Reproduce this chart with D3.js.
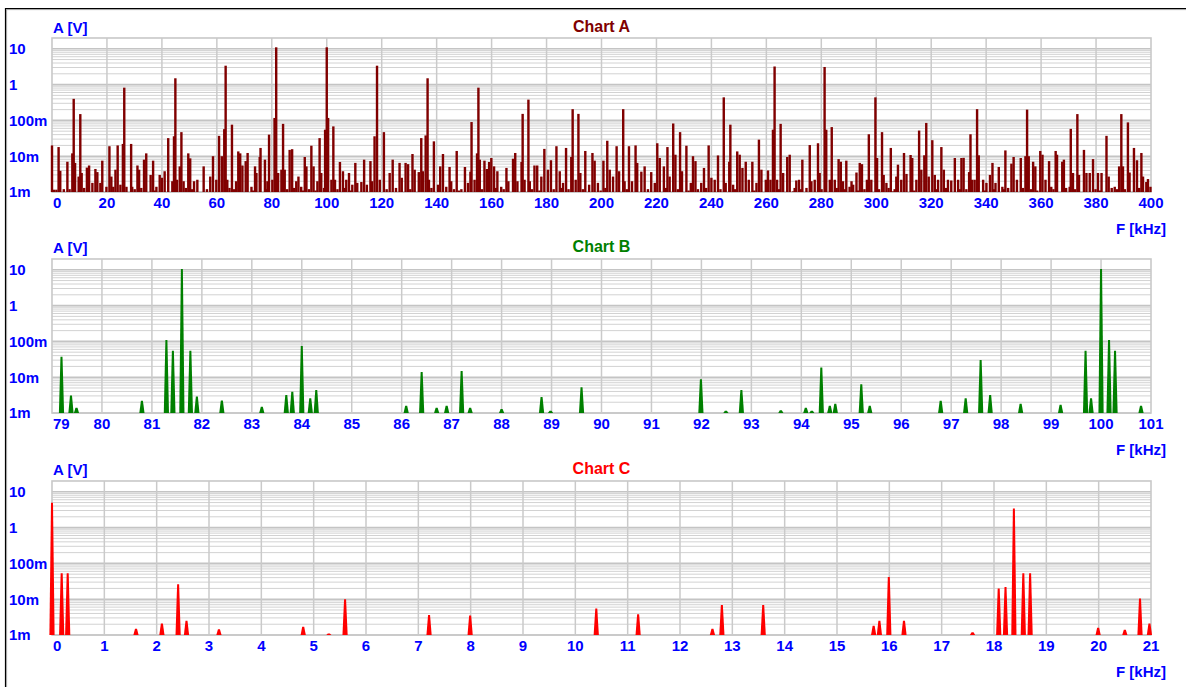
<!DOCTYPE html>
<html><head><meta charset="utf-8">
<script src="https://cdn.jsdelivr.net/npm/d3@7"></script>
<style>
body{margin:0;background:#fff}
svg{display:block}
text{font-family:"Liberation Sans",Arial,Helvetica,sans-serif;font-weight:bold}
</style>
</head><body>
<svg id="chart" width="1186" height="687"></svg>
<script>
// ---------- tick labels ----------
const yTickValues = [0.001, 0.01, 0.1, 1, 10];
const yTickLabels = ["1m", "10m", "100m", "1", "10"];
const xTicksA = [0,20,40,60,80,100,120,140,160,180,200,220,240,260,280,300,320,340,360,380,400];
const xTicksB = [79,80,81,82,83,84,85,86,87,88,89,90,91,92,93,94,95,96,97,98,99,100,101];
const xTicksC = [0,1,2,3,4,5,6,7,8,9,10,11,12,13,14,15,16,17,18,19,20,21];
const titles = ["Chart A", "Chart B", "Chart C"];
const yAxisTitle = "A [V]";
const xAxisTitle = "F [kHz]";

// ---------- Chart A : 0..400 kHz (volts) ----------
const freqA = [0.0,0.7,1.6,2.4,3.0,5.6,6.4,7.4,7.9,8.4,9.7,10.3,10.8,12.7,13.5,14.7,15.8,16.5,17.6,18.3,19.8,20.9,21.6,22.3,23.1,23.9,24.9,25.8,26.3,27.1,28.8,29.2,31.1,31.7,32.5,33.5,34.3,35.9,36.8,38.0,39.2,40.0,41.0,42.3,43.8,44.4,44.9,45.5,46.5,47.1,47.9,49.6,50.3,51.7,52.9,55.2,57.6,58.6,59.8,60.8,61.8,62.7,63.2,63.8,65.5,67.0,67.8,68.5,69.3,70.5,71.2,72.6,73.9,74.4,75.6,75.9,77.5,78.4,79.0,80.2,81.0,81.6,82.3,83.5,84.1,84.7,86.5,87.4,88.9,89.7,90.7,92.0,92.6,94.4,95.2,96.6,97.4,98.0,99.4,100.0,100.5,101.7,102.4,103.0,104.8,105.9,107.1,108.1,109.3,110.4,111.1,112.6,113.6,114.6,115.9,116.5,117.4,118.3,119.3,120.8,122.9,124.0,126.5,127.3,128.7,129.6,131.2,132.0,133.5,134.4,135.0,136.0,136.7,137.2,139.0,140.5,141.3,142.3,143.5,144.7,145.3,147.3,149.0,150.3,151.4,152.3,152.7,153.8,154.7,155.2,155.7,157.4,158.3,159.1,159.9,160.9,162.1,163.5,165.4,166.1,167.8,168.6,169.4,170.9,171.3,172.0,173.4,173.9,175.6,176.6,178.1,179.2,180.5,181.6,183.6,184.8,186.0,187.1,189.0,189.5,190.6,191.6,192.3,194.1,195.5,196.7,197.5,198.7,200.7,202.1,203.0,204.2,205.5,206.4,207.9,208.4,210.0,211.1,212.4,213.0,214.5,215.7,218.1,219.4,220.3,221.2,222.7,224.0,224.8,226.1,226.9,228.6,229.3,230.9,232.5,233.3,234.2,235.1,236.3,237.3,239.0,240.0,241.2,242.4,244.5,245.2,246.5,246.9,247.9,249.4,250.3,251.3,252.5,253.6,254.9,256.4,257.3,258.2,259.8,260.6,261.5,262.4,263.0,263.9,265.2,266.1,267.6,268.5,269.7,270.9,271.9,273.1,274.6,275.8,276.4,277.6,278.8,279.4,281.2,281.8,283.1,283.8,284.9,286.3,287.1,287.9,289.1,290.3,291.0,291.6,292.8,294.0,294.8,296.6,297.3,298.2,299.7,300.3,302.1,302.7,303.7,305.3,306.1,307.3,307.9,309.1,310.1,311.0,312.5,313.1,314.6,315.6,316.4,317.5,318.2,319.1,320.4,321.3,322.5,323.7,324.6,326.1,327.3,328.6,329.8,331.0,331.8,333.8,334.3,334.9,335.8,336.7,337.3,338.9,340.1,341.4,342.3,343.4,344.6,345.9,347.0,348.0,349.2,350.0,351.2,352.6,354.3,354.9,355.5,357.1,357.9,359.7,360.5,361.6,362.9,363.7,365.3,365.8,367.7,368.3,370.4,370.8,371.6,373.2,373.8,375.6,376.5,377.7,378.9,380.7,382.0,383.8,384.6,386.8,388.4,389.2,389.8,391.6,392.2,393.8,394.9,396.5,397.1,398.3,398.9,399.8];
const ampA = [0.020,0.00116,0.00116,0.018,0.0039,0.007,0.0012,0.012,0.40,0.0065,0.0027,0.15,0.0034,0.0048,0.0055,0.0018,0.0044,0.0036,0.0018,0.0075,0.0014,0.019,0.0027,0.0014,0.0042,0.020,0.0016,0.022,0.82,0.0014,0.022,0.0014,0.0055,0.0042,0.0013,0.008,0.012,0.003,0.0075,0.0014,0.003,0.0025,0.0038,0.032,0.002,0.036,1.5,0.0022,0.0052,0.047,0.002,0.012,0.0087,0.002,0.0022,0.0052,0.0027,0.010,0.0022,0.037,0.010,0.057,3.37,0.0022,0.076,0.002,0.0136,0.012,0.0055,0.0073,0.0123,0.0014,0.0052,0.0034,0.0095,0.017,0.008,0.002,0.040,0.0022,0.117,11.0,0.0034,0.0042,0.080,0.0042,0.015,0.0157,0.002,0.0027,0.0014,0.0095,0.0052,0.0196,0.0052,0.002,0.032,0.0034,0.055,11.0,0.117,0.0022,0.068,0.0022,0.0069,0.0038,0.0022,0.0034,0.0016,0.0065,0.0018,0.0019,0.008,0.0016,0.0073,0.002,0.036,3.37,0.0022,0.047,0.0034,0.008,0.0065,0.0025,0.0065,0.006,0.0115,0.0042,0.0036,0.032,0.0038,0.038,1.5,0.0022,0.026,0.0016,0.0052,0.0115,0.0014,0.005,0.002,0.014,0.0012,0.005,0.0018,0.0037,0.090,0.0022,0.012,0.82,0.008,0.0075,0.0044,0.0069,0.0089,0.0052,0.0038,0.0014,0.0047,0.002,0.0085,0.0123,0.002,0.0069,0.152,0.0022,0.38,0.002,0.0055,0.0055,0.0027,0.016,0.0042,0.0077,0.019,0.0038,0.0018,0.017,0.0095,0.206,0.0022,0.152,0.0034,0.014,0.0016,0.0123,0.0075,0.0018,0.0075,0.027,0.0042,0.0027,0.019,0.0038,0.206,0.002,0.019,0.002,0.020,0.0065,0.0037,0.0052,0.0036,0.0018,0.023,0.0089,0.0052,0.018,0.0027,0.082,0.011,0.047,0.0038,0.0196,0.0018,0.010,0.0073,0.0012,0.0018,0.0047,0.020,0.0025,0.0022,0.0105,0.44,0.0018,0.007,0.076,0.0016,0.0136,0.011,0.0047,0.007,0.0022,0.007,0.0018,0.029,0.0042,0.0022,0.004,0.0022,0.055,3.2,0.0022,0.080,0.0034,0.0095,0.011,0.00104,0.0021,0.0022,0.008,0.0013,0.0205,0.002,0.0022,0.023,0.0034,3.1,0.055,0.0022,0.065,0.0022,0.0083,0.007,0.002,0.0075,0.0014,0.002,0.0016,0.0035,0.0065,0.006,0.0022,0.041,0.0022,0.44,0.0089,0.047,0.003,0.0018,0.017,0.00104,0.0027,0.0058,0.0022,0.0123,0.0032,0.0108,0.0089,0.0022,0.052,0.0042,0.0106,0.085,0.0027,0.028,0.003,0.0022,0.018,0.0042,0.0022,0.0021,0.0089,0.0022,0.0089,0.009,0.0036,0.041,0.0022,0.0022,0.206,0.0106,0.0022,0.0018,0.003,0.0065,0.0018,0.005,0.0014,0.0145,0.0013,0.0062,0.0095,0.0022,0.0089,0.010,0.200,0.010,0.007,0.0052,0.014,0.011,0.0022,0.0073,0.0014,0.014,0.011,0.007,0.008,0.0014,0.058,0.0034,0.150,0.003,0.015,0.0034,0.0034,0.0083,0.0034,0.0034,0.037,0.0027,0.0014,0.0052,0.150,0.0052,0.088,0.0035,0.017,0.0077,0.0123,0.0027,0.0019,0.0023,0.0014];
// Chart A noise-floor components (small lines between the peaks)
const floorFreqA = [4.3,11.7,30.1,37.4,48.7,51.0,56.4,64.6,66.2,73.2,78.0,85.6,88.1,91.3,93.5,95.9,99.0,103.9,106.5,108.7,121.8,125.2,130.4,138.1,146.3,148.1,156.5,161.5,164.4,174.7,177.4,182.6,185.4,188.0,193.2,199.7,201.4,209.2,216.9,223.4,227.8,231.7,238.1,243.3,248.6,255.6,264.6,270.3,272.5,280.1,285.6,288.5,293.4,295.7,301.0,304.5,306.7,313.8,322.0,325.4,330.4,332.8,339.6,342.9,346.5,353.4,356.3,358.6,364.5,369.1,372.4,379.8,381.4,385.7,387.6,390.5,395.7];
const floorAmpA = [0.0012,0.0013,0.0012,0.0011,0.0013,0.0012,0.0012,0.0013,0.0012,0.0011,0.0012,0.0012,0.0013,0.0011,0.0012,0.0011,0.0013,0.0012,0.0013,0.0011,0.0012,0.0013,0.0012,0.0013,0.0012,0.0011,0.0012,0.0013,0.0012,0.0012,0.0011,0.0012,0.0013,0.0012,0.0012,0.0011,0.0013,0.0012,0.0012,0.0013,0.0012,0.0011,0.0013,0.0012,0.0012,0.0011,0.0012,0.0013,0.0012,0.0012,0.0013,0.0012,0.0011,0.0012,0.0012,0.0013,0.0012,0.0011,0.0012,0.0013,0.0012,0.0012,0.0011,0.0012,0.0012,0.0013,0.0012,0.0011,0.0012,0.0013,0.0012,0.0012,0.0011,0.0013,0.0012,0.0012,0.0013];

// ---------- Chart B : 79..101 kHz ----------
const freqB = [79.19,79.38,79.49,80.80,81.29,81.42,81.60,81.77,81.90,82.40,83.20,83.69,83.81,84.00,84.17,84.29,86.09,86.40,86.70,86.90,87.20,87.37,88.00,88.80,88.98,89.60,91.99,92.49,92.80,93.59,94.09,94.21,94.40,94.57,94.68,95.20,95.37,96.79,97.29,97.59,97.78,98.39,99.19,99.69,99.80,100.00,100.16,100.28,100.80];
const ampB = [0.037,0.0031,0.0014,0.0022,0.109,0.055,10.5,0.055,0.0029,0.00225,0.0015,0.0032,0.0039,0.074,0.0026,0.0044,0.0016,0.014,0.0014,0.0016,0.015,0.0014,0.0013,0.0028,0.00116,0.0052,0.0088,0.00116,0.0044,0.0012,0.0014,0.00116,0.0186,0.0016,0.0018,0.0064,0.0016,0.0022,0.0026,0.030,0.0032,0.0018,0.0017,0.055,0.0026,10.5,0.109,0.055,0.0016];

// ---------- Chart C : 0..21 kHz ----------
const freqC = [0.0,0.185,0.30,1.605,2.10,2.41,2.57,3.19,4.80,5.29,5.60,7.205,7.99,10.40,11.20,12.62,12.80,13.59,15.70,15.81,15.99,16.28,17.59,18.09,18.22,18.38,18.56,18.69,19.99,20.50,20.79,20.97];
const ampC = [4.9,0.053,0.053,0.0015,0.0021,0.026,0.0025,0.00144,0.0017,0.0011,0.010,0.0036,0.0035,0.0055,0.0038,0.0015,0.0069,0.0069,0.0018,0.0025,0.042,0.0025,0.0012,0.020,0.022,3.4,0.053,0.053,0.0016,0.0014,0.0105,0.0021];

// ---------- layout ----------
const W = 1186, H = 687;
const left = 52, right = 1151, plotH = 154;
const tops = [38, 259, 481];
const titleDy = [-11.5, -13, -13];
const labelDy = [-10.5, -11.5, -11.5];
const titleColors = ["#800000", "#008000", "#ff0000"];
const markColors = ["#800000", "#008000", "#ff0000"];
const blue = "#0000ff";

const svg = d3.select("#chart");
svg.append("rect").attr("width", W).attr("height", H).attr("fill", "#fff");
// outer frame
svg.append("line").attr("x1", 5).attr("x2", W).attr("y1", 8.5).attr("y2", 8.5).attr("stroke", "#000").attr("stroke-width", 1.2);
svg.append("line").attr("x1", 6).attr("x2", W).attr("y1", 9.6).attr("y2", 9.6).attr("stroke", "#a0a0a0").attr("stroke-width", 1);
svg.append("line").attr("x1", 5.5).attr("x2", 5.5).attr("y1", 8).attr("y2", H).attr("stroke", "#000").attr("stroke-width", 1.2);
svg.append("line").attr("x1", 6.6).attr("x2", 6.6).attr("y1", 9).attr("y2", H).attr("stroke", "#a0a0a0").attr("stroke-width", 1);

const panels = [
  {freq: freqA.concat(floorFreqA), amp: ampA.concat(floorAmpA), ticks: xTicksA, kind: "bar"},
  {freq: freqB, amp: ampB, ticks: xTicksB, kind: "tri"},
  {freq: freqC, amp: ampC, ticks: xTicksC, kind: "tri"}
];

panels.forEach((p, i) => {
  const top = tops[i], bottom = top + plotH;
  const x = d3.scaleLinear().domain([p.ticks[0], p.ticks[p.ticks.length - 1]]).range([left, right]);
  const y = d3.scaleLog().domain([0.001, 20]).range([bottom, top]).clamp(true);
  const g = svg.append("g");

  // horizontal minor grid
  const minors = [];
  yTickValues.forEach(d => { for (let k = 2; k <= 9; k++) if (d * k < 20) minors.push(d * k); });
  g.selectAll(".hmin").data(minors).join("line")
    .attr("x1", left).attr("x2", right)
    .attr("y1", d => y(d)).attr("y2", d => y(d))
    .attr("stroke", "#d2d2d2").attr("stroke-width", 1);
  g.selectAll(".hmaj").data(yTickValues).join("line")
    .attr("x1", left).attr("x2", right)
    .attr("y1", d => y(d)).attr("y2", d => y(d))
    .attr("stroke", "#c4c4c4").attr("stroke-width", 1.6);
  // vertical grid
  g.selectAll(".vg").data(p.ticks.slice(1, -1)).join("line")
    .attr("x1", d => x(d)).attr("x2", d => x(d))
    .attr("y1", top).attr("y2", bottom)
    .attr("stroke", "#cacaca").attr("stroke-width", 1.5);
  // border
  g.append("rect").attr("x", left).attr("y", top).attr("width", right - left).attr("height", plotH)
    .attr("fill", "none").attr("stroke", "#c8c8c8").attr("stroke-width", 1.6);

  // marks
  const data = p.freq.map((f, j) => ({f, a: p.amp[j]}));
  if (p.kind === "bar") {
    g.selectAll(".bar").data(data).join("rect")
      .attr("x", d => x(d.f) - 1.2).attr("width", 2.4)
      .attr("y", d => y(d.a)).attr("height", d => bottom - y(d.a))
      .attr("fill", markColors[i]);
  } else {
    g.selectAll(".tri").data(data).join("path")
      .attr("d", d => {
        const cx = x(d.f), ty = y(d.a);
        return `M${cx - 2.6},${bottom} L${cx - 1},${ty} L${cx + 1},${ty} L${cx + 2.6},${bottom} Z`;
      })
      .attr("fill", markColors[i]);
  }

  // y tick labels
  g.selectAll(".yl").data(yTickValues).join("text")
    .attr("x", 9).attr("y", d => y(d)).attr("dy", "0.36em")
    .attr("fill", blue).attr("font-size", 15).text((d, j) => yTickLabels[j]);
  // x tick labels
  g.selectAll(".xl").data(p.ticks).join("text")
    .attr("x", (d, j) => j === 0 ? left + 1 : x(d))
    .attr("text-anchor", (d, j) => j === 0 ? "start" : "middle")
    .attr("y", bottom + 10.5).attr("dy", "0.36em")
    .attr("fill", blue).attr("font-size", 15).text(d => d);
  // axis titles
  g.append("text").attr("x", left + 1).attr("y", top + labelDy[i]).attr("dy", "0.36em")
    .attr("fill", blue).attr("font-size", 15).text(yAxisTitle);
  g.append("text").attr("x", 1166).attr("y", bottom + 36.5).attr("dy", "0.36em")
    .attr("text-anchor", "end").attr("fill", blue).attr("font-size", 15).text(xAxisTitle);
  // chart title
  g.append("text").attr("x", (left + right) / 2).attr("y", top + titleDy[i]).attr("dy", "0.36em")
    .attr("text-anchor", "middle").attr("fill", titleColors[i]).attr("font-size", 16).text(titles[i]);
});
</script>
</body></html>
